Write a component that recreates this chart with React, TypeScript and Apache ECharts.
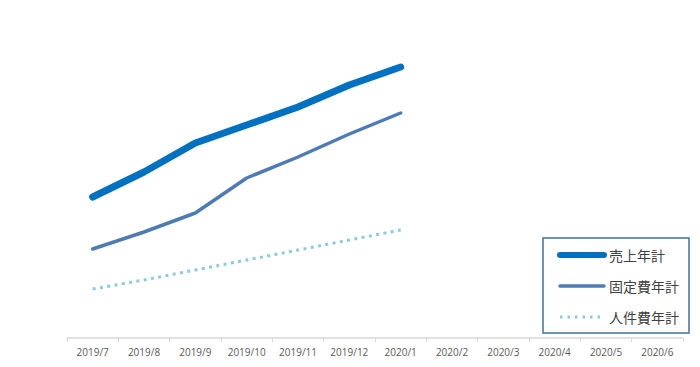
import React, { useEffect, useRef } from "react";
import * as echarts from "echarts";

const categories = [
  "2019/7", "2019/8", "2019/9", "2019/10", "2019/11", "2019/12",
  "2020/1", "2020/2", "2020/3", "2020/4", "2020/5", "2020/6",
];
const salesAnnual = [141, 166, 195, 213, 231, 253, 271];
const fixedCostAnnual = [89, 106, 125, 160, 181, 204, 225];
const personnelAnnual = [49, 58, 68, 78, 88, 98, 108];

const seriesNames = ["売上年計", "固定費年計", "人件費年計"];
const seriesColors = ["#0070c0", "#4f7bb5", "#8fc9dc"];

export default function App() {
  const ref = useRef<HTMLDivElement>(null);
  useEffect(() => {
    if (!ref.current) return;
    const chart = echarts.init(ref.current, undefined, { renderer: "svg" });
    chart.setOption({
      animation: false,
      backgroundColor: "#ffffff",
      textStyle: { fontFamily: "'Noto Sans CJK JP', 'Noto Sans', sans-serif" },
      grid: { left: 67, right: 17, top: 38, bottom: 29, containLabel: false },
      xAxis: {
        type: "category",
        data: categories,
        boundaryGap: true,
        axisLine: { lineStyle: { color: "#d9d9d9", width: 1.5 } },
        axisTick: { show: true, length: 4, lineStyle: { color: "#d9d9d9" } },
        axisLabel: {
          color: "#595959",
          fontSize: 10,
          margin: 9,
          fontFamily: "'Open Sans', sans-serif",
        },
      },
      yAxis: {
        type: "value",
        min: 0,
        max: 300,
        show: false,
      },
      legend: {
        orient: "vertical",
        left: 543,
        top: 238,
        width: 147,
        data: [
          { name: seriesNames[0], lineStyle: { width: 6, cap: "round", color: seriesColors[0] } },
          { name: seriesNames[1], lineStyle: { width: 3.5, cap: "round", color: seriesColors[1] } },
          { name: seriesNames[2], lineStyle: { width: 3, type: [2.5, 5], color: seriesColors[2] } },
        ],
        backgroundColor: "#ffffff",
        borderColor: "#41719c",
        borderWidth: 1.5,
        borderRadius: 0,
        padding: [10, 10, 9, 14],
        itemWidth: 44,
        itemHeight: 14,
        itemGap: 17,
        itemStyle: { opacity: 0 },
        textStyle: {
          fontSize: 14,
          color: "#404040",
        },
      },
      series: [
        {
          name: seriesNames[0],
          type: "line",
          data: salesAnnual,
          symbol: "none",
          color: seriesColors[0],
          lineStyle: { color: seriesColors[0], width: 7, cap: "round", join: "round" },
        },
        {
          name: seriesNames[1],
          type: "line",
          data: fixedCostAnnual,
          symbol: "none",
          color: seriesColors[1],
          lineStyle: { color: seriesColors[1], width: 3.5, cap: "round", join: "round" },
        },
        {
          name: seriesNames[2],
          type: "line",
          data: personnelAnnual,
          symbol: "none",
          color: seriesColors[2],
          lineStyle: { color: seriesColors[2], width: 3, type: [3, 4.4] },
        },
      ],
    });
    return () => chart.dispose();
  }, []);
  return <div ref={ref} style={{ width: 700, height: 367, margin: -8 }} />;
}
